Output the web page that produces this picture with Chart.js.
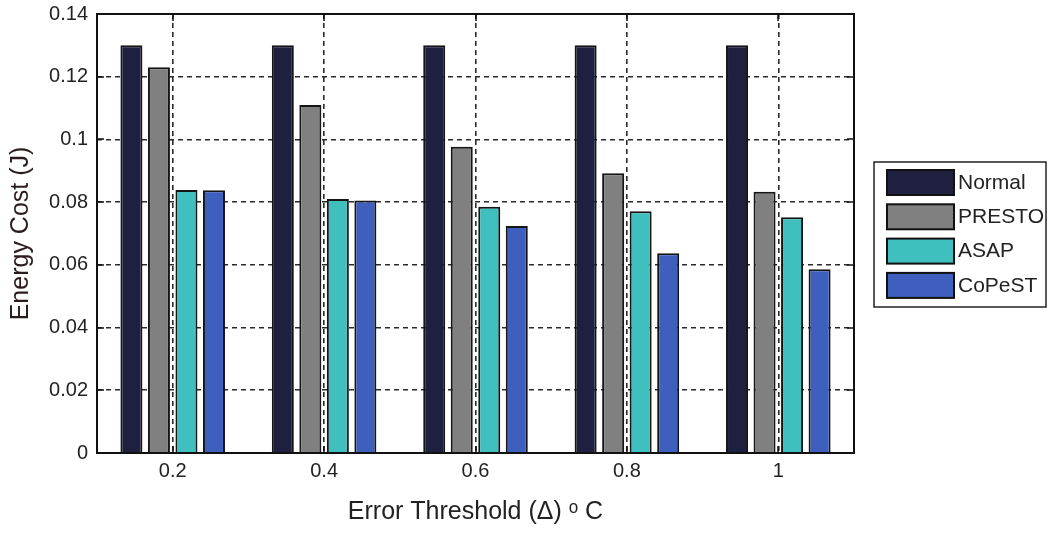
<!DOCTYPE html>
<html>
<head>
<meta charset="utf-8">
<title>Energy Cost vs Error Threshold</title>
<script src="https://cdn.jsdelivr.net/npm/chart.js@4/dist/chart.umd.min.js"></script>
<style>
  html, body { margin: 0; padding: 0; background: #fff; }
  #wrap { width: 1051px; height: 535px; }
</style>
</head>
<body>
<div id="wrap"><canvas id="chart-energy" width="1051" height="535"></canvas></div>
<script>
// data
const thresholds = ["0.2", "0.4", "0.6", "0.8", "1"];
const normalCost = [0.130, 0.130, 0.130, 0.130, 0.130];
const prestoCost = [0.123, 0.111, 0.0977, 0.0892, 0.0833];
const asapCost   = [0.0839, 0.0810, 0.0785, 0.0771, 0.0752];
const copestCost = [0.0838, 0.0805, 0.0724, 0.0637, 0.0586];
const yTicks = [0, 0.02, 0.04, 0.06, 0.08, 0.1, 0.12, 0.14];

const FONT = "'Liberation Sans', Arial, sans-serif";
const INK = "#222";

// box round the plot, inward tick marks, framed legend
const frameAndLegend = {
    id: "frameAndLegend",
    afterDraw(chart) {
        const ctx = chart.ctx;
        const a = chart.chartArea;
        const x = chart.scales.x, y = chart.scales.y;
        ctx.save();
        ctx.strokeStyle = "#111";
        ctx.lineWidth = 1.5;
        ctx.setLineDash([]);
        ctx.beginPath();
        yTicks.forEach(v => {
            const py = Math.round(y.getPixelForValue(v));
            ctx.moveTo(a.left, py); ctx.lineTo(a.left + 7, py);
            ctx.moveTo(a.right, py); ctx.lineTo(a.right - 7, py);
        });
        thresholds.forEach((t, i) => {
            const px = Math.round(x.getPixelForValue(i));
            ctx.moveTo(px, a.bottom); ctx.lineTo(px, a.bottom - 7);
            ctx.moveTo(px, a.top); ctx.lineTo(px, a.top + 7);
        });
        ctx.stroke();
        ctx.lineWidth = 2;
        ctx.strokeRect(a.left, a.top, a.right - a.left, a.bottom - a.top);

        // legend
        const lx = a.right + 20, lw = 172, lh = 145;
        const ly = (a.top + a.bottom) / 2 - lh / 2 + 1;
        ctx.fillStyle = "#fff";
        ctx.fillRect(lx, ly, lw, lh);
        ctx.strokeStyle = "#222";
        ctx.lineWidth = 1.5;
        ctx.strokeRect(lx, ly, lw, lh);
        ctx.font = "21px " + FONT;
        ctx.textBaseline = "middle";
        ctx.textAlign = "left";
        chart.data.datasets.forEach((ds, i) => {
            const sx = lx + 13, sy = ly + 8 + i * 34.3;
            ctx.fillStyle = ds.backgroundColor;
            ctx.fillRect(sx, sy, 67, 25);
            ctx.strokeStyle = "#111";
            ctx.lineWidth = 2;
            ctx.strokeRect(sx, sy, 67, 25);
            ctx.fillStyle = INK;
            ctx.fillText(ds.label, sx + 71, sy + 13);
        });
        ctx.restore();
    }
};

function makeSet(label, values, color) {
    return {
        label: label,
        data: values,
        backgroundColor: color,
        borderColor: "#151515",
        borderWidth: 2,
        barPercentage: 0.8,
        categoryPercentage: 0.727
    };
}

new Chart(document.getElementById("chart-energy"), {
    type: "bar",
    data: {
        labels: thresholds,
        datasets: [
            makeSet("Normal", normalCost, "#1f2040"),
            makeSet("PRESTO", prestoCost, "#808080"),
            makeSet("ASAP", asapCost, "#40bfbf"),
            makeSet("CoPeST", copestCost, "#3f5fbf")
        ]
    },
    options: {
        responsive: false,
        animation: false,
        layout: { padding: { top: 14, right: 197, left: 0, bottom: 0 } },
        plugins: {
            legend: { display: false },
            tooltip: { enabled: false }
        },
        scales: {
            x: {
                grid: {
                    offset: false,
                    color: "#2a2a2a",
                    lineWidth: 1.6,
                    drawTicks: false
                },
                border: { display: false, dash: [5, 4] },
                ticks: { color: INK, padding: 6, font: { family: FONT, size: 20 } },
                title: {
                    display: true,
                    text: "Error Threshold (\u0394) \u1D52 C",
                    color: INK,
                    font: { family: FONT, size: 25 },
                    padding: { top: 0, bottom: 8 }
                },
                afterFit: s => { s.height = 82; s.paddingLeft = 0; s.paddingRight = 0; }
            },
            y: {
                min: 0,
                max: 0.14,
                grid: {
                    color: "#2a2a2a",
                    lineWidth: 1.6,
                    drawTicks: false
                },
                border: { display: false, dash: [5, 4] },
                ticks: {
                    stepSize: 0.02,
                    color: INK,
                    padding: 9,
                    font: { family: FONT, size: 20 },
                    callback: v => String(+v.toFixed(2))
                },
                title: {
                    display: true,
                    text: "Energy Cost (J)",
                    color: "#2a1c1c",
                    font: { family: FONT, size: 25 },
                    padding: { top: 6, bottom: 0 }
                },
                afterFit: s => { s.width = 97; s.paddingTop = 0; s.paddingBottom = 0; }
            }
        }
    },
    plugins: [frameAndLegend]
});
</script>
</body>
</html>
